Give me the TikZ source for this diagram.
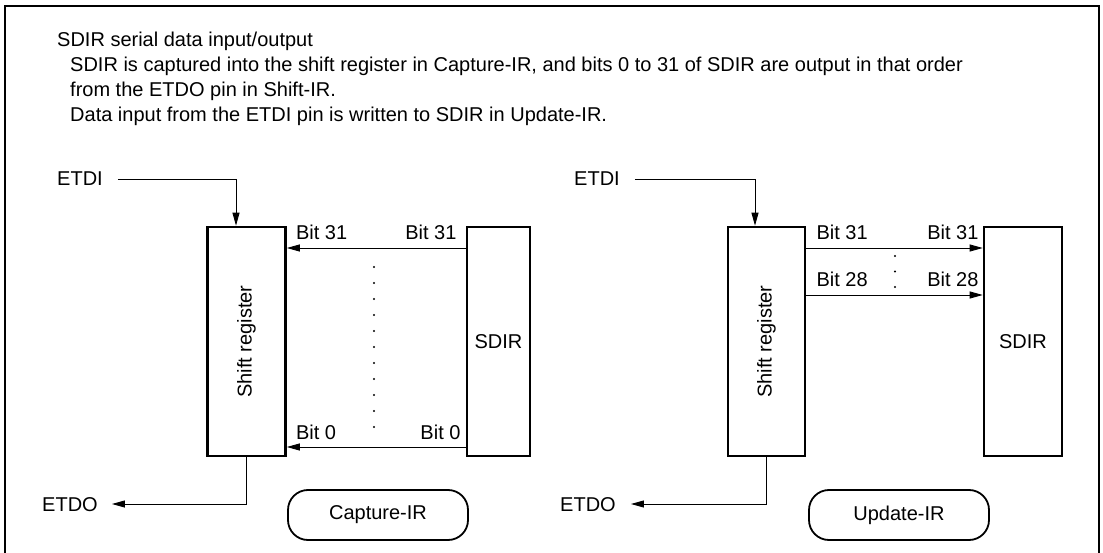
\documentclass[tikz,border=0pt]{standalone}
\usepackage{fontspec}
\setmainfont{Liberation Sans}
\usetikzlibrary{arrows.meta,positioning}

\tikzset{
  txt/.style={font=\fontsize{20}{25}\selectfont, inner sep=0pt},
  regbox/.style={draw, line width=2.6pt, minimum height=229pt, inner sep=0pt},
  statebox/.style={draw, line width=1.8pt, rounded corners=20pt, minimum width=180pt, minimum height=50pt, font=\fontsize{20}{24}\selectfont},
  sig/.style={line width=0.9pt, -{Triangle[length=13pt,width=7pt]}},
}

\begin{document}
\begin{tikzpicture}[x=1pt,y=-1pt]
\useasboundingbox (0,0) rectangle (1103,553);
% outer frame (open at the bottom)
\draw[line width=2.5pt] (5,553) -- (5,6) -- (1099,6) -- (1099,553);

% heading text
\node[txt, anchor=base west] (title) at (57,47) {SDIR serial data input/output};
\node[txt, anchor=base west] (descA) at (70,72)
  {SDIR is captured into the shift register in Capture-IR, and bits 0 to 31 of SDIR are output in that order};
\node[txt, anchor=base west] (descB) at (70,97) {from the ETDO pin in Shift-IR.};
\node[txt, anchor=base west] (descC) at (70,122) {Data input from the ETDI pin is written to SDIR in Update-IR.};

% Left: Capture-IR
\node[regbox, minimum width=78pt] (shiftA) at (246.5,341.5) {};
\node[txt, rotate=90] at (shiftA.center) {Shift register};
\node[regbox, minimum width=63pt] (sdirA) at (498.5,341.5) {};
\node[txt] at (sdirA.center) {SDIR};

\node[txt, anchor=base west] (etdiA) at (57,186) {ETDI};
\draw[sig] ([xshift=15pt]etdiA.east) -| ([xshift=-10.5pt]shiftA.north);
\node[txt, anchor=base west] (etdoA) at (42,511) {ETDO};
\draw[sig] (shiftA.south) |- ([xshift=14pt]etdoA.east |- 0,504);

\draw[sig] (sdirA.west |- 0,248) -- (shiftA.east |- 0,248);
\draw[sig] (sdirA.west |- 0,447) -- (shiftA.east |- 0,447);
\node[txt, anchor=base west] at ([xshift=9pt]shiftA.east |- 0,240) {Bit 31};
\node[txt, anchor=base east] at ([xshift=-9pt]sdirA.west |- 0,240) {Bit 31};
\node[txt, anchor=base west] at ([xshift=9pt]shiftA.east |- 0,439) {Bit 0};
\node[txt, anchor=base east] at ([xshift=-5pt]sdirA.west |- 0,439) {Bit 0};
\foreach \k in {0,...,10}
  \fill (374,267+16*\k) circle (1.1pt);

\node[statebox] (capture) at (378,515) {Capture-IR};

% Right: Update-IR
\node[regbox, minimum width=77pt] (shiftB) at (766.5,341.5) {};
\node[txt, rotate=90] at (shiftB.center) {Shift register};
\node[regbox, minimum width=78pt] (sdirB) at (1023,341.5) {};
\node[txt] at (sdirB.center) {SDIR};

\node[txt, anchor=base west] (etdiB) at (574,186) {ETDI};
\draw[sig] ([xshift=15pt]etdiB.east) -| ([xshift=-11.5pt]shiftB.north);
\node[txt, anchor=base west] (etdoB) at (560,511) {ETDO};
\draw[sig] (shiftB.south) |- ([xshift=15pt]etdoB.east |- 0,504);

\draw[sig] (shiftB.east |- 0,248) -- (sdirB.west |- 0,248);
\draw[sig] (shiftB.east |- 0,295) -- (sdirB.west |- 0,295);
\node[txt, anchor=base west] at ([xshift=10pt]shiftB.east |- 0,240) {Bit 31};
\node[txt, anchor=base east] at ([xshift=-4pt]sdirB.west |- 0,240) {Bit 31};
\node[txt, anchor=base west] at ([xshift=10pt]shiftB.east |- 0,287) {Bit 28};
\node[txt, anchor=base east] at ([xshift=-4pt]sdirB.west |- 0,287) {Bit 28};
\foreach \k in {0,1,2}
  \fill (895,256+15.5*\k) circle (1.1pt);

\node[statebox] (update) at (899,515) {Update-IR};
\end{tikzpicture}
\end{document}
